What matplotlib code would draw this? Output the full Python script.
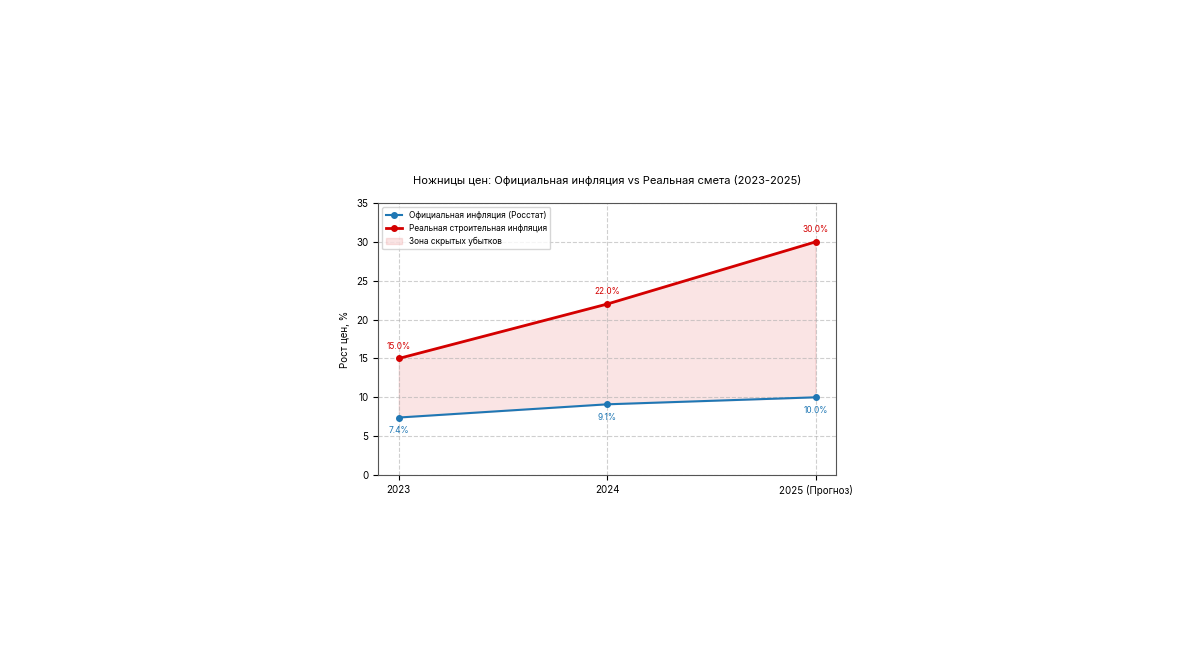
import matplotlib
matplotlib.use('Agg')
import matplotlib.pyplot as plt

plt.rcParams['font.family'] = ['Inter', 'DejaVu Sans']

years = ['2023', '2024', '2025 (Прогноз)']
official = [7.4, 9.1, 10.0]
real = [15.0, 22.0, 30.0]

fig = plt.figure(figsize=(12, 6.7), dpi=100)
ax = fig.add_axes([0.315, 0.291, 0.382, 0.406])
x = list(range(len(years)))

ax.plot(x, official, marker='o', color='#1f77b4', linewidth=1.5, markersize=4,
        label='Официальная инфляция (Росстат)')
ax.plot(x, real, marker='o', color='#d40000', linewidth=2, markersize=4,
        label='Реальная строительная инфляция')
ax.fill_between(x, official, real, color='#d62728', alpha=0.12,
                label='Зона скрытых убытков')

for xi, v in zip(x, official):
    ax.annotate(f'{v:.1f}%', (xi, v), xytext=(0, -11), textcoords='offset points',
                ha='center', fontsize=6, color='#1f77b4')
for xi, v in zip(x, real):
    ax.annotate(f'{v:.1f}%', (xi, v), xytext=(0, 7), textcoords='offset points',
                ha='center', fontsize=6, color='#d40000')

ax.set_xticks(x)
ax.set_xticklabels(years, fontsize=7)
ax.set_xlim(-0.1, 2.1)
ax.set_ylim(0, 35)
ax.tick_params(axis='y', labelsize=7)
ax.set_ylabel('Рост цен, %', fontsize=7)
ax.set_title('Ножницы цен: Официальная инфляция vs Реальная смета (2023-2025)',
             fontsize=8, pad=14)
ax.grid(True, linestyle='--', alpha=0.6)
for s in ax.spines.values():
    s.set_color('#555555')
ax.legend(loc='upper left', fontsize=6)

fig.savefig('out.png', dpi=100)
